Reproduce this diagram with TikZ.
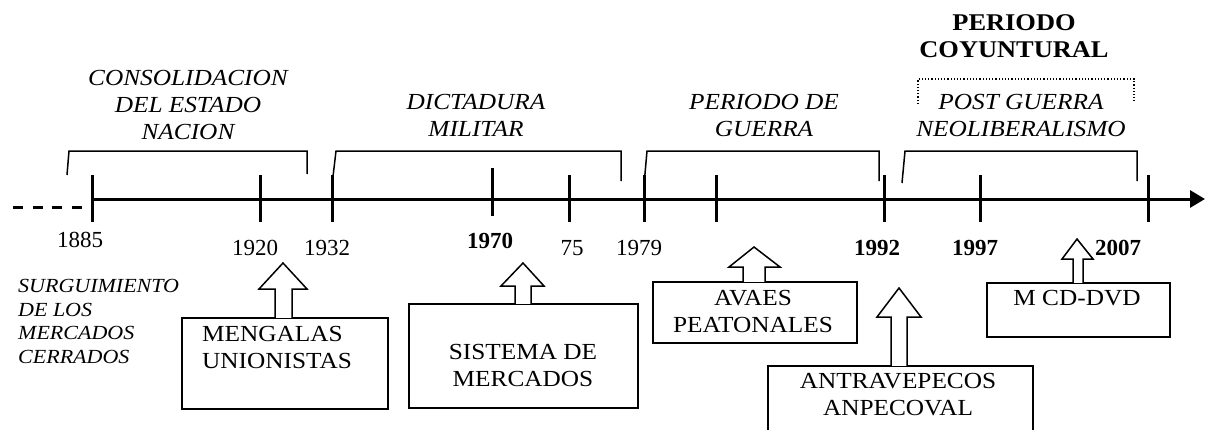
\documentclass[tikz,border=0pt]{standalone}
\usepackage{fontspec}
\setmainfont{Liberation Serif}
\newfontfamily\widefont[FakeStretch=1.1]{Liberation Serif}
\usetikzlibrary{arrows.meta,calc}

\tikzset{
  axis/.style={line width=3pt, -{Triangle[length=15pt,width=17pt]}},
  tick/.style={line width=3pt},
  bracket/.style={line width=1.5pt},
  period/.style={font=\widefont\fontsize{23}{27}\selectfont\itshape, align=center, anchor=base, inner sep=0pt},
  year/.style={font=\fontsize{23}{27}\selectfont, anchor=base, inner sep=0pt},
  event/.style={draw, line width=1.5pt, anchor=north west, inner sep=0pt},
  eventtext/.style={font=\widefont\fontsize{23}{27}\selectfont, anchor=base, inner sep=0pt, align=center},
  blockarrow/.style={draw, fill=white, line width=1.5pt, line join=miter},
}

% block arrow on top of a box: box, shaft l/r, head l/r, head y, tip
\newcommand{\blockup}[7]{%
  \draw[blockarrow] ($(#1.north -| #2,0)+(0,0.8)$) -- (#2,#6) -- (#4,#6) -- (#7)
    -- (#5,#6) -- (#3,#6) -- ($(#1.north -| #3,0)+(0,0.8)$);
}

\begin{document}
\begin{tikzpicture}[x=1pt,y=-1pt]
\useasboundingbox (0,0) rectangle (1212,429);

% time axis
\coordinate (start) at (92,199);
\coordinate (end) at (1205,199);
\coordinate (past) at (13,207);
\draw[line width=3pt, dash pattern=on 10pt off 9.5pt] (past) -- (start |- past);
\draw[axis] (start) -- (end);
\foreach \x in {92,260,332,569,644,716,884,980,1148}
  \draw[tick] (\x,175) -- (\x,222);
\draw[tick] (492,168) -- (492,216);

% years
\node[year] (y1885) at (80,247) {1885};
\node[year] (y1920) at (255,255) {1920};
\node[year] (y1932) at (327,255) {1932};
\node[year] (y1970) at (490,248) {\bfseries 1970};
\node[year] (y75) at (572,255) {75};
\node[year] (y1979) at (639,255) {1979};
\node[year] (y1992) at (877,255) {\bfseries 1992};
\node[year] (y1997) at (975,255) {\bfseries 1997};
\node[year] (y2007) at (1118,255) {\bfseries 2007};

% periods
\draw[bracket] (67,175) -- (69,151) -- (307,151) -- (307,174);
\draw[bracket] (332,185) -- (336,151) -- (621,151) -- (621,181);
\draw[bracket] (644,185) -- (647,151) -- (879,151) -- (879,181);
\draw[bracket] (902,183) -- (905,151) -- (1137,151) -- (1137,181);
\draw[line width=1.2pt, dotted] (918,104) -- (918,79) -- (1134,79) -- (1134,101);

\node[period] (consolidacion) at (188,139) {CONSOLIDACION\\DEL ESTADO\\NACION};
\node[period] (dictadura) at (476,136) {DICTADURA\\MILITAR};
\node[period] (guerra) at (764,136) {PERIODO DE\\GUERRA};
\node[period] (postguerra) at (1021,136) {POST GUERRA\\NEOLIBERALISMO};
\node[period, font=\widefont\fontsize{24}{27}\selectfont\bfseries] (coyuntural) at (1014,57) {PERIODO\\COYUNTURAL};
\node[period, font=\widefont\fontsize{20}{23.5}\selectfont\itshape, align=left, anchor=base west]
  (surgimiento) at (18,363) {SURGUIMIENTO\\DE LOS\\MERCADOS\\CERRADOS};

% events
\node[event, minimum width=206pt, minimum height=91pt] (mengalas) at (181,317) {};
\node[eventtext, align=left, anchor=base west] (mengalastxt) at (202,368) {MENGALAS\\UNIONISTAS};
\blockup{mengalas}{275}{292}{259}{307}{289}{283,263}

\node[event, minimum width=229pt, minimum height=104pt] (sistema) at (408,303) {};
\node[eventtext] (sistematxt) at (523,386) {SISTEMA DE\\MERCADOS};
\blockup{sistema}{515}{531}{501}{544}{286}{523,263}

\node[event, minimum width=204pt, minimum height=61pt] (avaes) at (652,281) {};
\node[eventtext] (avaestxt) at (753,332) {AVAES\\PEATONALES};
\blockup{avaes}{743}{765}{729}{780}{267}{754,247}

\node[event, minimum width=265pt, minimum height=80pt] (antra) at (767,365) {};
\node[eventtext] (antratxt) at (898,415) {ANTRAVEPECOS\\ANPECOVAL};
\blockup{antra}{891}{907}{877}{921}{317}{899,288}

\node[event, minimum width=183pt, minimum height=54pt] (mcd) at (986,282) {};
\node[eventtext] (mcdtxt) at (1077,305) {M CD-DVD};
\blockup{mcd}{1073}{1083}{1062}{1093}{259}{1077,239}
\end{tikzpicture}
\end{document}
